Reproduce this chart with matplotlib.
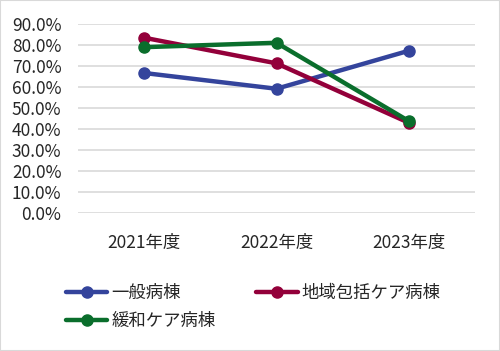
import matplotlib
matplotlib.use("Agg")
import matplotlib.pyplot as plt
from matplotlib.ticker import FuncFormatter
from matplotlib.patches import Rectangle

plt.rcParams['font.family'] = ['Noto Sans CJK JP', 'DejaVu Sans']

years = ['2021年度', '2022年度', '2023年度']
general = [66.7, 59.2, 77.3]
community = [83.5, 71.3, 43.0]
palliative = [79.0, 81.1, 43.8]

names = ['一般病棟', '地域包括ケア病棟', '緩和ケア病棟']
colors = ['#34449C', '#93003A', '#0A6E2C']
txt = '#262626'

fig = plt.figure(figsize=(5.0, 3.51), dpi=100)
ax = fig.add_axes([0.156, 0.393, 0.794, 0.5384])

x = [0.5, 1.5, 2.5]
lines = []
for vals, c, n in zip([general, community, palliative], colors, names):
    ln, = ax.plot(x, vals, color=c, lw=3.2, marker='o', ms=8,
                  solid_capstyle='round', label=n)
    lines.append(ln)

ax.set_xlim(0, 3)
ax.set_ylim(0, 90)
ax.set_yticks(range(0, 91, 10))
ax.yaxis.set_major_formatter(FuncFormatter(lambda v, p: f'{v:.1f}%'))
ax.set_xticks(x)
ax.set_xticklabels(years)
ax.tick_params(axis='y', length=0, pad=12, labelsize=12.5, colors=txt)
ax.tick_params(axis='x', length=0, pad=15, labelsize=12.5, colors=txt)
ax.grid(axis='y', color='#D9D9D9', lw=1.2)
ax.set_axisbelow(True)
for s in ax.spines.values():
    s.set_visible(False)

fig.legend([lines[0], lines[2], lines[1]],
           [names[0], names[2], names[1]],
           ncol=2, loc='upper left', bbox_to_anchor=(0.114, 0.215),
           frameon=False, fontsize=12.5, labelcolor=txt,
           handlelength=2.4, handletextpad=0.25, columnspacing=2.3,
           borderpad=0, labelspacing=0.55)

fig.patches.append(Rectangle((0, 0), 1, 1, transform=fig.transFigure,
                             fill=False, edgecolor='#D9D9D9', lw=1.5))

fig.savefig('out.png', dpi=100)
